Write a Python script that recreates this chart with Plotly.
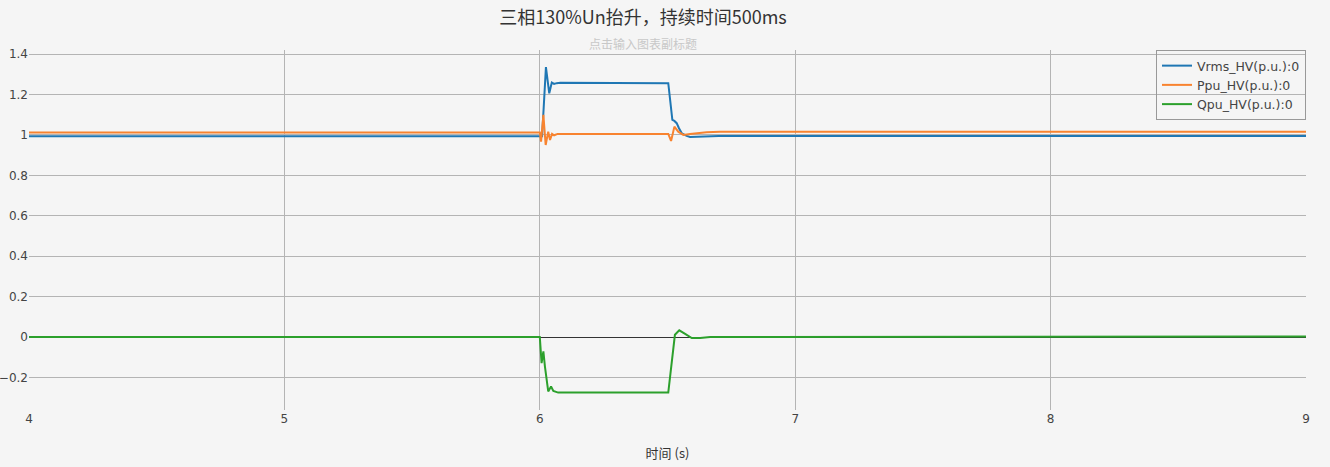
import plotly.graph_objects as go

# ---- data ----
t_vrms = [4.0, 6.0, 6.009, 6.024, 6.037, 6.047, 6.056, 6.066, 6.08, 6.503, 6.519, 6.527, 6.536, 6.545, 6.556, 6.575, 6.588, 6.70, 9.0]
vrms = [0.993, 0.993, 0.993, 1.335, 1.206, 1.259, 1.252, 1.256, 1.258, 1.256, 1.074, 1.069, 1.058, 1.033, 1.008, 0.995, 0.990, 0.995, 0.995]

t_ppu = [4.0, 6.0, 6.005, 6.014, 6.023, 6.033, 6.040, 6.048, 6.056, 6.07, 6.503, 6.514, 6.527, 6.542, 6.562, 6.588, 6.653, 6.705, 9.0]
ppu = [1.012, 1.012, 0.967, 1.099, 0.950, 1.016, 0.975, 1.005, 0.998, 1.005, 1.005, 0.970, 1.041, 1.016, 1.000, 1.005, 1.013, 1.015, 1.015]

t_qpu = [4.0, 6.0, 6.007, 6.014, 6.020, 6.033, 6.044, 6.053, 6.072, 6.503, 6.529, 6.546, 6.569, 6.595, 6.628, 6.667, 9.0]
qpu = [0.0, 0.0, -0.129, -0.071, -0.145, -0.269, -0.245, -0.267, -0.275, -0.275, 0.011, 0.033, 0.016, -0.005, -0.005, 0.0, 0.003]

series_names = ["Vrms_HV(p.u.):0", "Ppu_HV(p.u.):0", "Qpu_HV(p.u.):0"]
series_colors = ["#1f77b4", "#f8832f", "#2ca02c"]

title_text = "三相130%Un抬升，持续时间500ms"
subtitle_text = "点击输入图表副标题"
x_title = "时间 (s)"

x_ticks = [4, 5, 6, 7, 8, 9]
y_ticks = [-0.2, 0, 0.2, 0.4, 0.6, 0.8, 1, 1.2, 1.4]
y_ticktext = ["−0.2", "0", "0.2", "0.4", "0.6", "0.8", "1", "1.2", "1.4"]

fig = go.Figure()
for tx, ty, name, col in zip([t_vrms, t_ppu, t_qpu], [vrms, ppu, qpu], series_names, series_colors):
    fig.add_trace(go.Scatter(x=tx, y=ty, mode="lines", name=name,
                             line=dict(color=col, width=2)))

bg = "#f5f5f5"
fig.update_layout(
    width=1330, height=467,
    paper_bgcolor=bg, plot_bgcolor=bg,
    margin=dict(l=29, r=24, t=50, b=57, autoexpand=False),
    font=dict(family="DejaVu Sans, Verdana, sans-serif", size=12, color="#444"),
    title=dict(text=title_text, x=643 / 1330, xanchor="center", xref="container",
               y=1 - 18 / 467, yref="container", yanchor="middle",
               font=dict(family="Noto Sans CJK SC", size=18, color="#333")),
    showlegend=True,
    legend=dict(x=1, xanchor="right", y=1, yanchor="top",
                bgcolor="rgba(0,0,0,0)", bordercolor="#999", borderwidth=1,
                font=dict(family="DejaVu Sans, Verdana, sans-serif", size=12.5, color="#444"),
                tracegroupgap=0, itemwidth=30),
    annotations=[dict(text=subtitle_text, xref="paper", yref="paper",
                      x=(643 - 29) / 1277, y=1 + 7 / 360, xanchor="center", yanchor="middle",
                      showarrow=False,
                      font=dict(family="Noto Sans CJK SC", size=12, color="#c8c8c8"))],
)
fig.update_xaxes(range=[4, 9], tickvals=x_ticks, showgrid=True, gridcolor="#b4b4b4", gridwidth=1,
                 zeroline=False, showline=False, ticks="", automargin=False,
                 tickfont=dict(size=12, color="#444"),
                 title=dict(text=x_title, font=dict(family="Noto Sans CJK SC", size=13, color="#333"), standoff=23))
fig.update_yaxes(range=[-0.361, 1.42], tickvals=y_ticks, ticktext=y_ticktext,
                 showgrid=True, gridcolor="#b4b4b4", gridwidth=1, automargin=False,
                 zeroline=True, zerolinecolor="#333", zerolinewidth=1, showline=False, ticks="",
                 tickfont=dict(size=12, color="#444"))

fig.write_html(
    "out.html",
    config={"displayModeBar": False},
    post_script="document.body.style.margin='0';document.body.style.background='#f5f5f5';"
                "document.documentElement.style.overflow='hidden';",
)
